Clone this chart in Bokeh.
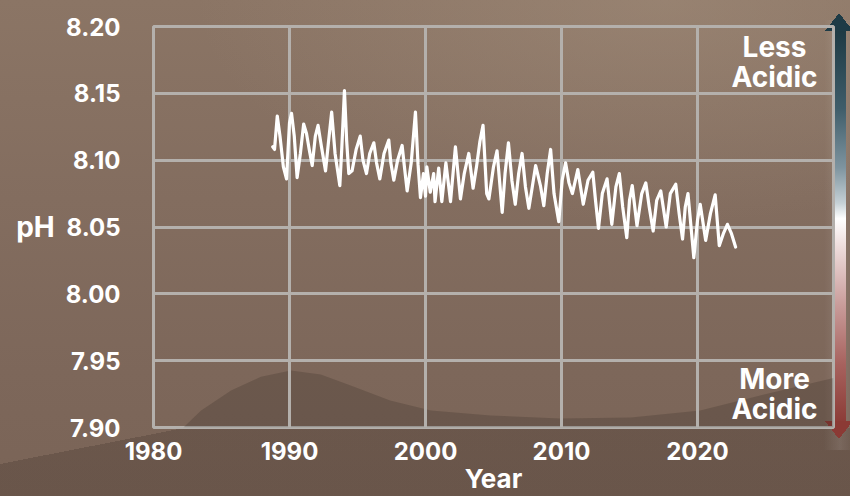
from bokeh.plotting import figure
from bokeh.models import Range1d, FixedTicker, NumeralTickFormatter, Label
from bokeh.embed import file_html
from bokeh.resources import INLINE

# ---------------- data ----------------
years = [1988.77, 1988.9, 1989.1, 1989.3, 1989.55, 1989.78, 1990.0, 1990.15, 1990.35, 1990.56,
         1990.8, 1991.04, 1991.25, 1991.45, 1991.67, 1991.9, 1992.1, 1992.35, 1992.65, 1992.85,
         1993.1, 1993.35, 1993.7, 1993.85, 1994.04, 1994.2, 1994.36, 1994.6, 1994.9, 1995.2,
         1995.4, 1995.66, 1995.9, 1996.2, 1996.4, 1996.64, 1996.95, 1997.3, 1997.45, 1997.67,
         1997.95, 1998.28, 1998.45, 1998.65, 1998.95, 1999.26, 1999.45, 1999.63, 1999.85, 2000.0,
         2000.1, 2000.35, 2000.6, 2000.7, 2000.97, 2001.2, 2001.5, 2001.84, 2002.2, 2002.57,
         2002.85, 2003.18, 2003.5, 2003.75, 2004.0, 2004.23, 2004.5, 2004.66, 2005.0, 2005.26,
         2005.64, 2005.85, 2006.1, 2006.35, 2006.6, 2006.85, 2007.1, 2007.35, 2007.6, 2007.85,
         2008.1, 2008.45, 2008.7, 2008.95, 2009.2, 2009.45, 2009.8, 2010.05, 2010.3, 2010.55,
         2010.8, 2011.2, 2011.6, 2011.95, 2012.3, 2012.5, 2012.72, 2013.0, 2013.35, 2013.7,
         2014.0, 2014.25, 2014.5, 2014.8, 2015.0, 2015.2, 2015.55, 2015.9, 2016.2, 2016.45,
         2016.74, 2017.0, 2017.3, 2017.7, 2018.0, 2018.4, 2018.65, 2018.9, 2019.1, 2019.3,
         2019.73, 2020.0, 2020.2, 2020.6, 2020.95, 2021.3, 2021.6, 2021.9, 2022.2, 2022.5,
         2022.8]
ph = [8.110, 8.108, 8.133, 8.118, 8.095, 8.086, 8.128, 8.135, 8.118, 8.087,
      8.105, 8.127, 8.120, 8.108, 8.096, 8.118, 8.126, 8.110, 8.092, 8.112,
      8.136, 8.105, 8.081, 8.110, 8.152, 8.115, 8.090, 8.092, 8.108, 8.118,
      8.100, 8.090, 8.105, 8.113, 8.098, 8.086, 8.105, 8.115, 8.098, 8.085,
      8.100, 8.111, 8.095, 8.077, 8.098, 8.136, 8.097, 8.072, 8.090, 8.073,
      8.095, 8.076, 8.090, 8.069, 8.094, 8.069, 8.098, 8.069, 8.110, 8.071,
      8.090, 8.105, 8.079, 8.095, 8.114, 8.126, 8.075, 8.071, 8.095, 8.107,
      8.061, 8.090, 8.113, 8.085, 8.067, 8.090, 8.105, 8.080, 8.064, 8.080,
      8.096, 8.081, 8.066, 8.090, 8.108, 8.075, 8.054, 8.085, 8.098, 8.083,
      8.075, 8.093, 8.067, 8.085, 8.091, 8.070, 8.049, 8.075, 8.086, 8.052,
      8.080, 8.090, 8.065, 8.042, 8.070, 8.081, 8.051, 8.075, 8.083, 8.065,
      8.047, 8.070, 8.077, 8.050, 8.075, 8.082, 8.060, 8.041, 8.065, 8.075,
      8.027, 8.055, 8.067, 8.040, 8.060, 8.074, 8.036, 8.045, 8.052, 8.045,
      8.035]

x_ticks = [1980, 1990, 2000, 2010, 2020]
y_ticks = [7.90, 7.95, 8.00, 8.05, 8.10, 8.15, 8.20]
x_start, x_end = 1980, 2030
y_start, y_end = 7.90, 8.20

# decorative seabed silhouette (inside the plot area)
seabed_years = [1982.2, 1983.5, 1985.7, 1987.9, 1990.1, 1992.3, 1994.5, 1997.4, 2000.4,
                2004.8, 2009.9, 2015.1, 2020.2, 2024.6, 2030.0, 2030.0]
seabed_ph = [7.900, 7.9127, 7.9277, 7.938, 7.9427, 7.9397, 7.9315, 7.9202, 7.9127,
             7.909, 7.9067, 7.9075, 7.9127, 7.924, 7.937, 7.900]

# ---------------- layout ----------------
FONT = "Inter"
GRID = "#b4b0ac"
W, H = 850, 496
LEFT, TOP, FW, FH = 153, 26, 680, 401


def xd(px):
    return x_start + (px - LEFT) * (x_end - x_start) / FW


def yd(py):
    return y_end - (py - TOP) * (y_end - y_start) / FH


p = figure(width=W, height=H, output_backend="svg", toolbar_location=None,
           x_range=Range1d(x_start, x_end), y_range=Range1d(y_start, y_end),
           min_border_left=LEFT, min_border_right=W - LEFT - FW,
           min_border_top=TOP, min_border_bottom=H - TOP - FH,
           background_fill_color=None, border_fill_color=None)

# page background + the "less / more acidic" gradient arrow (pure decoration)
DARK = "rgba(30,20,15,0.18)"
bar = ("linear-gradient(to bottom, #1d3943 0%, #3f5d6a 20%, #7e949f 35%, #c5d0d5 44%, "
       "#ffffff 48%, #eedddc 55%, #c99c9a 70%, #a7625e 85%, #8b3b36 100%)")
p.styles = {"background": ", ".join([
    "linear-gradient(to top left, #1e3b46 50%, rgba(0,0,0,0) 50%) 825px 13px / 14px 18px no-repeat",
    "linear-gradient(to top right, #1e3b46 50%, rgba(0,0,0,0) 50%) 839px 13px / 14px 18px no-repeat",
    "linear-gradient(to bottom left, #8b3a35 50%, rgba(0,0,0,0) 50%) 825px 421px / 14px 18px no-repeat",
    "linear-gradient(to bottom right, #8b3a35 50%, rgba(0,0,0,0) 50%) 839px 421px / 14px 18px no-repeat",
    bar + " 834px 30px / 12px 393px no-repeat",
    "linear-gradient(to right, rgba(255,255,255,0), rgba(255,255,255,0.10), rgba(255,255,255,0)) 824px 20px / 32px 430px no-repeat",
    # seabed below the plot area
    f"linear-gradient(to bottom right, rgba(0,0,0,0) 50%, {DARK} 50%) 0px 428px / 184px 36px no-repeat",
    f"linear-gradient({DARK}, {DARK}) 0px 464px / 184px 40px no-repeat",
    f"linear-gradient({DARK}, {DARK}) 184px 428px / 666px 70px no-repeat",
    "radial-gradient(ellipse 55% 45% at 78% 0%, rgba(175,155,135,0.35), rgba(175,155,135,0) 100%)",
    "linear-gradient(to bottom, #8b7565 0%, #836d5f 40%, #7d675a 75%, #7a6457 100%)",
])}

p.outline_line_color = GRID
p.outline_line_width = 3
p.grid.grid_line_color = GRID
p.grid.grid_line_width = 3
p.grid.grid_line_alpha = 1

p.xaxis.ticker = FixedTicker(ticks=x_ticks)
p.yaxis.ticker = FixedTicker(ticks=y_ticks)
p.yaxis.formatter = NumeralTickFormatter(format="0.00")
for ax in (p.xaxis[0], p.yaxis[0]):
    ax.axis_line_color = None
    ax.major_tick_line_color = None
    ax.minor_tick_line_color = None
    ax.major_label_text_color = "white"
    ax.major_label_text_font = FONT
    ax.major_label_text_font_style = "bold"
    ax.axis_label_text_color = "white"
    ax.axis_label_text_font = FONT
    ax.axis_label_text_font_style = "bold"
p.xaxis.major_label_text_font_size = "24px"
p.yaxis.major_label_text_font_size = "24px"
p.xaxis.major_label_standoff = 8
p.yaxis.major_label_standoff = 27

p.xaxis.axis_label = "Year"
p.xaxis.axis_label_text_font_size = "26px"
p.xaxis.axis_label_standoff = 0
p.yaxis.axis_label = "pH"
p.yaxis.axis_label_orientation = "horizontal"
p.yaxis.axis_label_text_font_size = "28px"
p.yaxis.axis_label_text_baseline = "bottom"
p.yaxis.axis_label_standoff = 8

# seabed silhouette under the grid
p.patch(seabed_years, seabed_ph, fill_color="#1e140f", fill_alpha=0.18,
        line_color=None, level="image")

# data line
p.line(years, ph, line_color="white", line_width=3.2, line_join="round", line_cap="round")


def text_label(x, y, txt, size):
    p.add_layout(Label(x=x, y=y, text=txt, text_align="center", text_baseline="middle",
                       text_font=FONT, text_font_style="bold", text_font_size=size,
                       text_color="white"))


text_label(xd(774), yd(46), "Less", "28px")
text_label(xd(774), yd(76), "Acidic", "28px")
text_label(xd(774), yd(378), "More", "28px")
text_label(xd(774), yd(408), "Acidic", "28px")

open("out.html", "w").write(file_html(p, INLINE))
